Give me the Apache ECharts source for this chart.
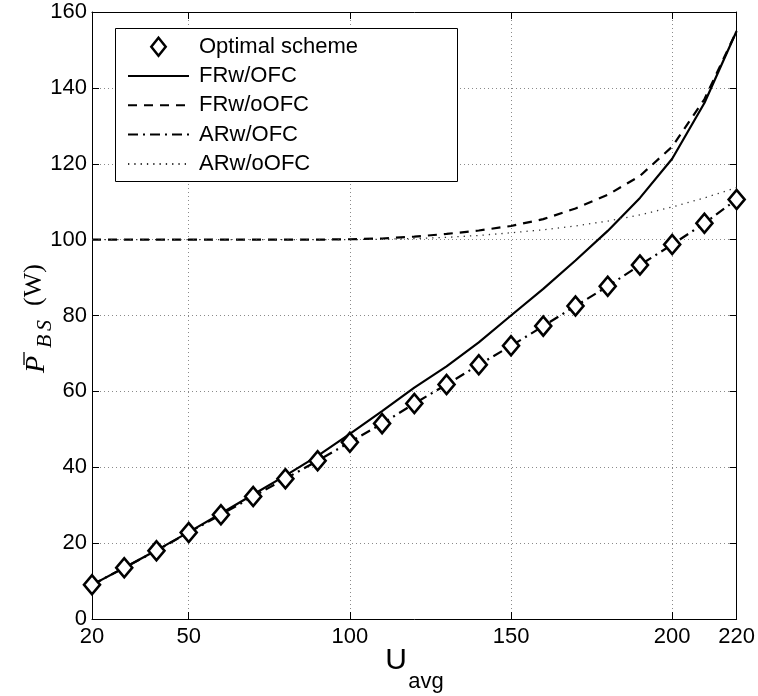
<!DOCTYPE html>
<html><head><meta charset="utf-8">
<script src="https://cdn.jsdelivr.net/npm/echarts@6/dist/echarts.min.js"></script>
<style>html,body{margin:0;padding:0;background:#fff}#c{width:758px;height:696px}</style>
</head><body><div id="c"></div>
<script>
// ---- data ----
const uAvg     = [20,30,40,50,60,70,80,90,100,110,120,130,140,150,160,170,180,190,200,210,220];
const optimal  = [9.0,13.5,18.0,22.8,27.5,32.3,37.0,41.7,46.6,51.5,56.8,61.8,67.0,72.0,77.2,82.5,87.7,93.3,98.7,104.3,110.6];
const frwOFC   = [9.0,13.5,18.1,22.9,27.8,32.8,37.8,43.0,48.8,54.8,61.0,66.6,72.9,80.0,87.0,94.5,102.3,111.0,121.3,136.0,155.0];
const frwoOFC  = [100,100,100,100,100,100,100,100,100.1,100.3,100.8,101.5,102.4,103.6,105.4,108.2,111.8,116.8,124.5,137.0,155.0];
const arwOFC   = [9.0,13.5,18.0,22.8,27.5,32.3,37.0,41.7,46.6,51.5,56.8,61.8,67.0,72.0,77.2,82.5,87.7,93.3,98.7,104.3,110.6];
const arwoOFC  = [100,100,100,100,100,100,100,100,100,100.1,100.3,100.6,101.1,101.8,102.6,103.6,104.9,106.5,108.6,111.0,113.7];
const xTicks   = [20,50,100,150,200,220];
const names    = ['Optimal scheme','FRw/OFC','FRw/oOFC','ARw/OFC','ARw/oOFC'];

const pairs = arr => uAvg.map((u,i)=>[u,arr[i]]);
const sans = '"Liberation Sans", Arial, sans-serif';
const serif = '"Liberation Serif", "Times New Roman", serif';

const chart = echarts.init(document.getElementById('c'), null, {renderer:'canvas'});
const gridLine = {show:true, lineStyle:{color:'#8a8a8a', type:[1,3], width:1}};
const hideSym = {opacity:0};
chart.setOption({
  animation:false,
  backgroundColor:'#fff',
  grid:{left:92, top:12, width:645, height:607, containLabel:false},
  xAxis:[
    {type:'value', min:20, max:220, position:'bottom',
     axisLine:{show:true, onZero:false, lineStyle:{color:'#000', width:1}},
     axisTick:{show:true, inside:true, length:7, customValues:xTicks, lineStyle:{color:'#000'}},
     axisLabel:{show:true, customValues:xTicks, margin:7, color:'#000', fontSize:22, fontFamily:sans},
     splitLine:gridLine},
    {type:'value', min:20, max:220, position:'top',
     axisLine:{show:true, onZero:false, lineStyle:{color:'#000', width:1}},
     axisTick:{show:true, inside:true, length:7, customValues:xTicks, lineStyle:{color:'#000'}},
     axisLabel:{show:false}, splitLine:{show:false}}
  ],
  yAxis:[
    {type:'value', min:0, max:160, interval:20, position:'left',
     axisLine:{show:true, onZero:false, lineStyle:{color:'#000', width:1}},
     axisTick:{show:true, inside:true, length:7, lineStyle:{color:'#000'}},
     axisLabel:{show:true, margin:5, color:'#000', fontSize:22, fontFamily:sans},
     splitLine:gridLine},
    {type:'value', min:0, max:160, interval:20, position:'right',
     axisLine:{show:true, onZero:false, lineStyle:{color:'#000', width:1}},
     axisTick:{show:true, inside:true, length:7, lineStyle:{color:'#000'}},
     axisLabel:{show:false}, splitLine:{show:false}}
  ],
  legend:{
    orient:'vertical', left:127, top:35.7, padding:0, z:10,
    itemWidth:61, itemHeight:18, itemGap:7.3, symbolKeepAspect:true,
    textStyle:{fontSize:22, fontFamily:sans, color:'#000', lineHeight:22, padding:[0,0,0,5]},
    data:[
      {name:names[0], icon:'path://M0,-10L8,0L0,10L-8,0Z', itemStyle:{color:'#fff', borderColor:'#000', borderWidth:2.5, opacity:1}},
      {name:names[1], itemStyle:hideSym},
      {name:names[2], itemStyle:hideSym},
      {name:names[3], itemStyle:hideSym},
      {name:names[4], itemStyle:hideSym}
    ],
    selectedMode:false
  },
  graphic:[
    {type:'rect', z:9, shape:{x:115.5, y:28.5, width:342, height:153},
     style:{fill:'#fff', stroke:'#000', lineWidth:1}},
    {type:'text', z:9, x:396, y:661, style:{text:'U', font:'30px '+sans, fill:'#000', align:'center', verticalAlign:'middle'}},
    {type:'text', z:9, x:426, y:682, style:{text:'avg', font:'22px '+sans, fill:'#000', align:'center', verticalAlign:'middle'}},
    {type:'group', x:0, y:373, rotation:Math.PI/2, z:9, children:[
      {type:'text', x:0, y:37, style:{text:'P', font:'italic 28px '+serif, fill:'#000', align:'left', verticalAlign:'middle'}},
      {type:'line', shape:{x1:8, y1:24, x2:21, y2:24}, style:{stroke:'#000', lineWidth:1.3}},
      {type:'text', x:25, y:45, style:{text:'B', font:'italic 22px '+serif, fill:'#000', align:'left', verticalAlign:'middle'}},
      {type:'text', x:42, y:45, style:{text:'S', font:'italic 22px '+serif, fill:'#000', align:'left', verticalAlign:'middle'}},
      {type:'text', x:67, y:34, style:{text:'(W)', font:'26px '+serif, fill:'#000', align:'left', verticalAlign:'middle'}}
    ]}
  ],
  series:[
    {name:names[0], type:'scatter', data:pairs(optimal), symbol:'diamond', symbolSize:[16,19], z:5,
     itemStyle:{color:'#fff', borderColor:'#000', borderWidth:2.6, opacity:1}},
    {name:names[1], type:'line', data:pairs(frwOFC), symbol:'none', z:3,
     lineStyle:{color:'#000', width:2.2, type:'solid'}, itemStyle:{color:'#000'}},
    {name:names[2], type:'line', data:pairs(frwoOFC), symbol:'none', z:3,
     lineStyle:{color:'#000', width:2.2, type:[9,7]}, itemStyle:{color:'#000'}},
    {name:names[3], type:'line', data:pairs(arwOFC), symbol:'none', z:3,
     lineStyle:{color:'#000', width:2.2, type:[10,5,2,5]}, itemStyle:{color:'#000'}},
    {name:names[4], type:'line', data:pairs(arwoOFC), symbol:'none', z:3,
     lineStyle:{color:'#333', width:1.3, type:[1.3,5]}, itemStyle:{color:'#000'}}
  ]
});
</script></body></html>
